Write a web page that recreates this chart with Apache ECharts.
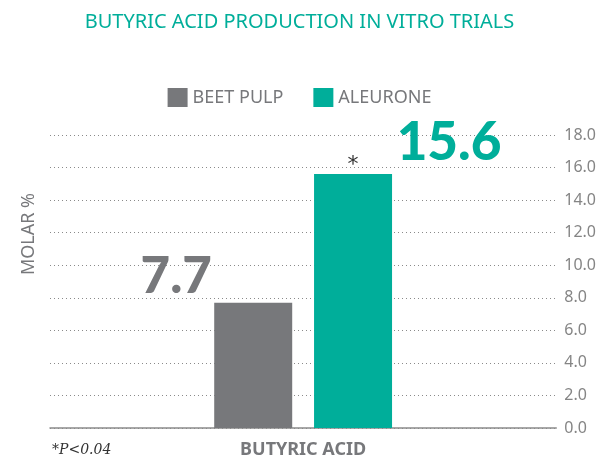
<!DOCTYPE html>
<html>
<head>
    <meta charset="utf-8">
    <title>Butyric acid production</title>
    <script src="https://cdn.jsdelivr.net/npm/echarts@6/dist/echarts.min.js"></script>
    <style>
        html, body { margin: 0; padding: 0; background: #fff; }
        #main { width: 599px; height: 466px; }
    </style>
</head>
<body>
<div id="main"></div>
<script type="text/javascript">
    // 数据
    var categories = ['BUTYRIC ACID'];
    var seriesNames = ['BEET PULP', 'ALEURONE'];
    var beetPulp = [7.7];
    var aleurone = [15.6];
    var yTicks = [0, 2, 4, 6, 8, 10, 12, 14, 16, 18];

    var gray = '#77787b';
    var teal = '#00ae9a';

    var myChart = echarts.init(document.getElementById('main'));

    var option = {
        animation: false,
        title: {
            text: 'BUTYRIC ACID PRODUCTION IN VITRO TRIALS',
            left: 'center',
            top: 7,
            textStyle: {
                color: teal,
                fontSize: 20,
                fontWeight: 'normal',
                fontFamily: 'Noto Sans'
            }
        },
        legend: {
            data: seriesNames,
            top: 83,
            left: 'center',
            itemWidth: 20,
            itemHeight: 19,
            itemGap: 30,
            icon: 'rect',
            textStyle: {
                fontSize: 18,
                fontFamily: 'Noto Sans',
                color: gray
            }
        },
        grid: {
            left: 50,
            right: 42,
            top: 135,
            bottom: 38
        },
        xAxis: {
            type: 'category',
            data: categories,
            axisTick: { show: false },
            axisLine: { lineStyle: { color: '#8a8a8a', width: 1.5 } },
            axisLabel: {
                margin: 13,
                color: gray,
                fontSize: 18,
                fontWeight: 'bold',
                fontFamily: 'Noto Sans'
            }
        },
        yAxis: {
            type: 'value',
            position: 'right',
            min: yTicks[0],
            max: yTicks[yTicks.length - 1],
            interval: 2,
            axisLine: { show: false },
            axisTick: { show: false },
            axisLabel: {
                margin: 8,
                color: '#858585',
                fontSize: 16,
                fontFamily: 'Noto Sans',
                formatter: function (v) { return v.toFixed(1); }
            },
            splitLine: {
                lineStyle: { type: [1, 3], color: '#8a8a8a', width: 1 }
            }
        },
        series: [{
            name: seriesNames[0],
            type: 'bar',
            data: beetPulp,
            barWidth: 78,
            barGap: '28%',
            itemStyle: { color: gray },
            label: {
                show: true,
                position: [-38, -26],
                align: 'center',
                verticalAlign: 'middle',
                color: gray,
                fontSize: 51,
                fontWeight: 900,
                fontFamily: 'Lato',
                formatter: function (p) { return p.value.toFixed(1); }
            },
            z: 3
        }, {
            name: seriesNames[1],
            type: 'bar',
            data: aleurone,
            barWidth: 78,
            itemStyle: { color: teal },
            label: {
                show: true,
                position: [135, -31],
                align: 'center',
                verticalAlign: 'middle',
                color: teal,
                fontSize: 53,
                fontWeight: 900,
                fontFamily: 'Lato',
                formatter: function (p) { return p.value.toFixed(1); }
            },
            markPoint: {
                symbol: 'circle',
                symbolSize: 0,
                data: [{ type: 'max' }],
                label: {
                    show: true,
                    formatter: '*',
                    position: 'top',
                    distance: 0,
                    offset: [0, 2],
                    color: '#333',
                    fontSize: 22,
                    fontFamily: 'DejaVu Sans'
                }
            },
            z: 3
        }],
        graphic: [{
            type: 'text',
            x: 29,
            y: 234,
            rotation: Math.PI / 2,
            style: {
                x: 0,
                y: 0,
                text: 'MOLAR %',
                fill: gray,
                fontSize: 18,
                fontFamily: 'Noto Sans',
                align: 'center',
                verticalAlign: 'middle'
            }
        }, {
            type: 'text',
            left: 52,
            top: 443,
            style: {
                text: '*P<0.04',
                fill: '#333',
                fontSize: 14,
                fontStyle: 'italic',
                fontFamily: 'DejaVu Serif'
            }
        }]
    };
    myChart.setOption(option);
</script>
</body>
</html>
